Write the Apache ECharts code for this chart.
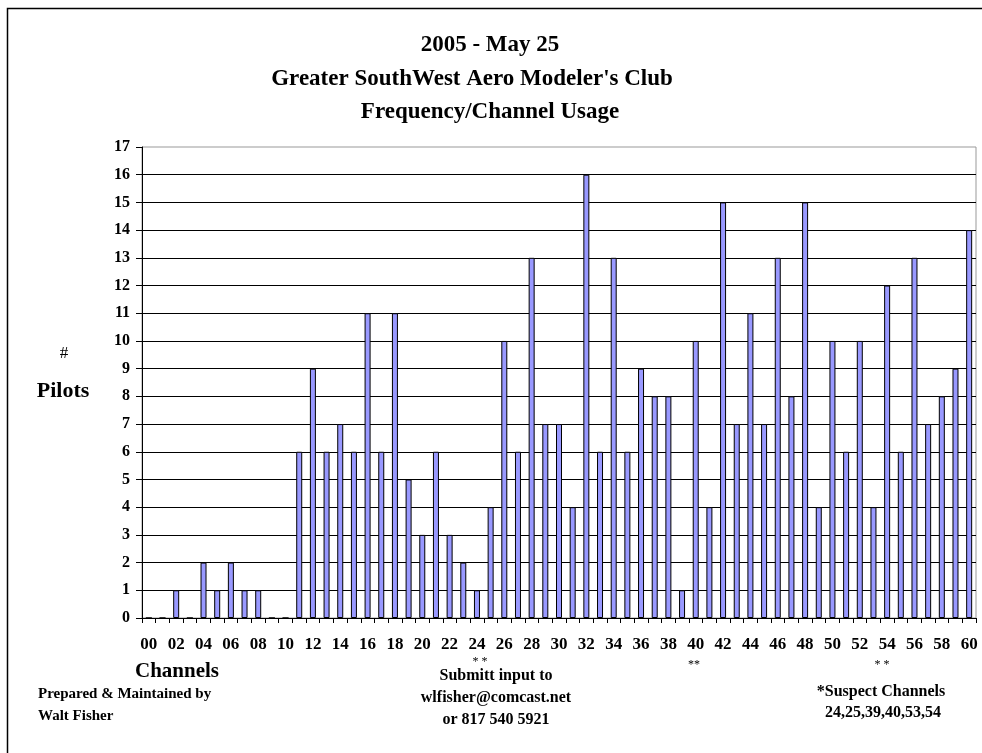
<!DOCTYPE html>
<html>
<head>
<meta charset="utf-8">
<script src="https://cdn.jsdelivr.net/npm/echarts@6/dist/echarts.min.js"></script>
<style>
html,body{margin:0;padding:0;background:#fff;}
#chart{width:982px;height:753px;}
</style>
</head>
<body>
<div id="chart"></div>
<script>
const channels = ['00','01','02','03','04','05','06','07','08','09','10','11','12','13','14','15','16','17','18','19','20','21','22','23','24','25','26','27','28','29','30','31','32','33','34','35','36','37','38','39','40','41','42','43','44','45','46','47','48','49','50','51','52','53','54','55','56','57','58','59','60'];
const pilots = [0,0,1,0,2,1,2,1,1,0,0,6,9,6,7,6,11,6,11,5,3,6,3,2,1,4,10,6,13,7,7,4,16,6,13,6,9,8,8,1,10,4,15,7,11,7,13,8,15,4,10,6,10,4,12,6,13,7,8,9,14];
const titleLines = ['2005 - May 25', "Greater SouthWest Aero Modeler's Club", 'Frequency/Channel Usage'];
const yTitle = ['#', 'Pilots'];
const xTitle = 'Channels';
const leftNote = ['Prepared & Maintained by', 'Walt Fisher'];
const midNote = ['Submitt input to', 'wlfisher@comcast.net', 'or 817 540 5921'];
const rightNote = ['*Suspect Channels', '24,25,39,40,53,54'];

const serif = '"Liberation Serif","DejaVu Serif",serif';
const chart = echarts.init(document.getElementById('chart'));

function txt(x, y, s, size, bold, align) {
  return {
    type: 'text', x: x, y: y,
    style: {
      text: s, fill: '#000', font: (bold ? 'bold ' : '') + size + 'px ' + serif,
      textAlign: align || 'center', textVerticalAlign: 'middle'
    }
  };
}

const graphics = [
  { type: 'rect', shape: { x: 7.5, y: 8.5, width: 1000, height: 800 }, style: { fill: 'none', stroke: '#000', lineWidth: 1.5 }, z: -1 },
  txt(490, 45, titleLines[0], 23, true),
  txt(472, 79, titleLines[1], 23, true),
  txt(490, 112, titleLines[2], 23, true),
  txt(64, 354, yTitle[0], 17, false),
  txt(63, 391, yTitle[1], 22, true),
  txt(177, 672, xTitle, 21, true),
  txt(38, 694, leftNote[0], 15, true, 'left'),
  txt(38, 716, leftNote[1], 15, true, 'left'),
  txt(480, 662, '* *', 12, false),
  txt(694, 665, '**', 12, false),
  txt(882, 665, '* *', 12, false),
  txt(496, 676, midNote[0], 16, true),
  txt(496, 698, midNote[1], 16, true),
  txt(496, 720, midNote[2], 16, true),
  txt(881, 692, rightNote[0], 16, true),
  txt(883, 713, rightNote[1], 16, true)
];

chart.setOption({
  animation: false,
  backgroundColor: '#fff',
  grid: { left: 142, right: 6, top: 147, bottom: 135, show: true, borderColor: '#999', borderWidth: 1 },
  xAxis: {
    type: 'category',
    data: channels,
    boundaryGap: true,
    axisLine: { lineStyle: { color: '#000', width: 1 } },
    axisTick: { show: true, interval: 0, length: 5, lineStyle: { color: '#000' } },
    axisLabel: { interval: 1, margin: 18, color: '#000', fontFamily: serif, fontWeight: 'bold', fontSize: 17 },
    splitLine: { show: false }
  },
  yAxis: {
    type: 'value', min: 0, max: 17, interval: 1,
    axisLine: { show: true, lineStyle: { color: '#000', width: 1 } },
    axisTick: { show: true, length: 6, lineStyle: { color: '#000' } },
    axisLabel: { margin: 12, color: '#000', fontFamily: serif, fontWeight: 'bold', fontSize: 16 },
    splitLine: { show: true, showMaxLine: false, lineStyle: { color: '#000', width: 1 } }
  },
  series: [{
    type: 'bar',
    data: pilots,
    barWidth: 6,
    itemStyle: { color: '#9999FF', borderColor: '#000', borderWidth: 1 }
  }],
  graphic: graphics
});
</script>
</body>
</html>
